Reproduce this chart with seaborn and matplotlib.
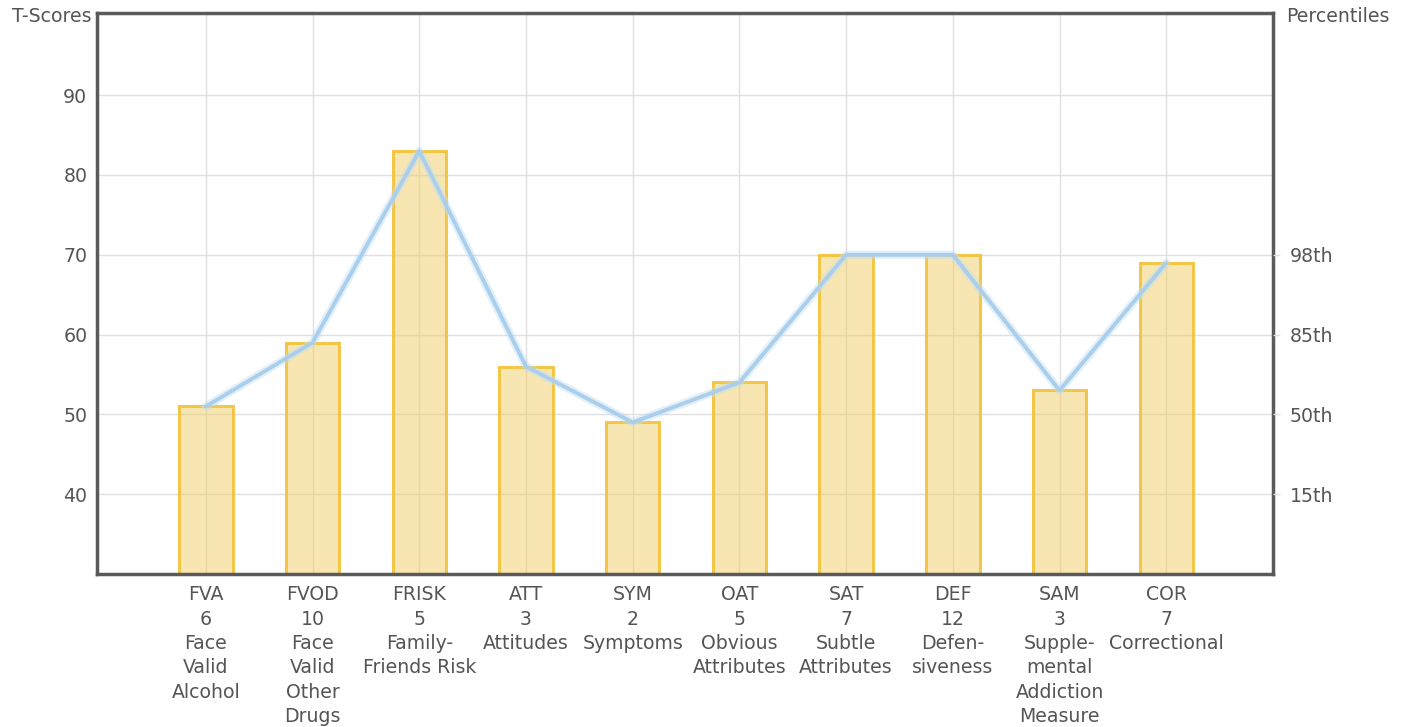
import numpy as np
import pandas as pd
import matplotlib
matplotlib.use("Agg")
import matplotlib.pyplot as plt
import seaborn as sns

codes = ["FVA", "FVOD", "FRISK", "ATT", "SYM", "OAT", "SAT", "DEF", "SAM", "COR"]
raw_scores = ["6", "10", "5", "3", "2", "5", "7", "12", "3", "7"]
names = ["Face\nValid\nAlcohol", "Face\nValid\nOther\nDrugs", "Family-\nFriends Risk",
         "Attitudes", "Symptoms", "Obvious\nAttributes", "Subtle\nAttributes",
         "Defen-\nsiveness", "Supple-\nmental\nAddiction\nMeasure", "Correctional"]
t_scores = [51, 59, 83, 56, 49, 54, 70, 70, 53, 69]
y_ticks = [40, 50, 60, 70, 80, 90]
pct_ticks = [40, 50, 60, 70]
pct_labels = ["15th", "50th", "85th", "98th"]

sns.set_theme(style="white")
plt.rcParams['font.family'] = ['DejaVu Sans']
TXT = "#555555"
FS = 13.6

df = pd.DataFrame({"code": codes, "score": t_scores})

fig = plt.figure(figsize=(14.08, 7.27), dpi=100)
ax = fig.add_axes([97/1408, 1-574/727, (1273-97)/1408, (574-13)/727])

sns.barplot(data=df, x="code", y="score", order=codes, ax=ax, width=0.5,
            color="#f0cf6a", edgecolor="#efc13a", linewidth=2.2, zorder=3)
for p in ax.patches:
    p.set_facecolor((0.94, 0.81, 0.42, 0.52))
    p.set_edgecolor((0.95, 0.77, 0.25, 0.95))

sns.lineplot(data=df, x="code", y="score", sort=False, ax=ax, color="#c4def2",
             linewidth=6, alpha=0.45, zorder=4)
sns.lineplot(data=df, x="code", y="score", sort=False, ax=ax, color="#aacfec",
             linewidth=2.8, zorder=5)

ax.set_xlim(-1.02, len(codes))
ax.set_ylim(30, 100.3)
ax.set_yticks(y_ticks)
ax.set_yticklabels([str(v) for v in y_ticks], fontsize=FS, color=TXT)
ax.set_xticks(range(len(codes)))
labels = [f"{c}\n{r}\n{n}" for c, r, n in zip(codes, raw_scores, names)]
ax.set_xticklabels(labels, fontsize=FS, color=TXT)
for lab in ax.get_xticklabels():
    lab.set_linespacing(1.36)
ax.set_xlabel("")
ax.set_ylabel("")
ax.tick_params(axis="both", length=0)
ax.tick_params(axis="y", pad=7)
ax.tick_params(axis="x", pad=8)

ax.grid(True, color="#e0e0e0", linewidth=1.0, zorder=0)
ax.set_axisbelow(True)

for s in ax.spines.values():
    s.set_color("#5a5a5a")
    s.set_linewidth(2.5)
    s.set_zorder(10)

ax2 = ax.twinx()
ax2.set_ylim(ax.get_ylim())
ax2.set_yticks(pct_ticks)
ax2.set_yticklabels(pct_labels, fontsize=FS, color=TXT)
ax2.tick_params(axis="y", length=5, color="#e0e0e0", width=1.0, pad=7)
for s in ax2.spines.values():
    s.set_visible(False)
ax2.grid(False)

fig.text(91/1408, 1-17/727, "T-Scores", ha="right", va="center", fontsize=FS, color=TXT)
fig.text(1286/1408, 1-17/727, "Percentiles", ha="left", va="center", fontsize=FS, color=TXT)

fig.savefig("out.png", dpi=100)
